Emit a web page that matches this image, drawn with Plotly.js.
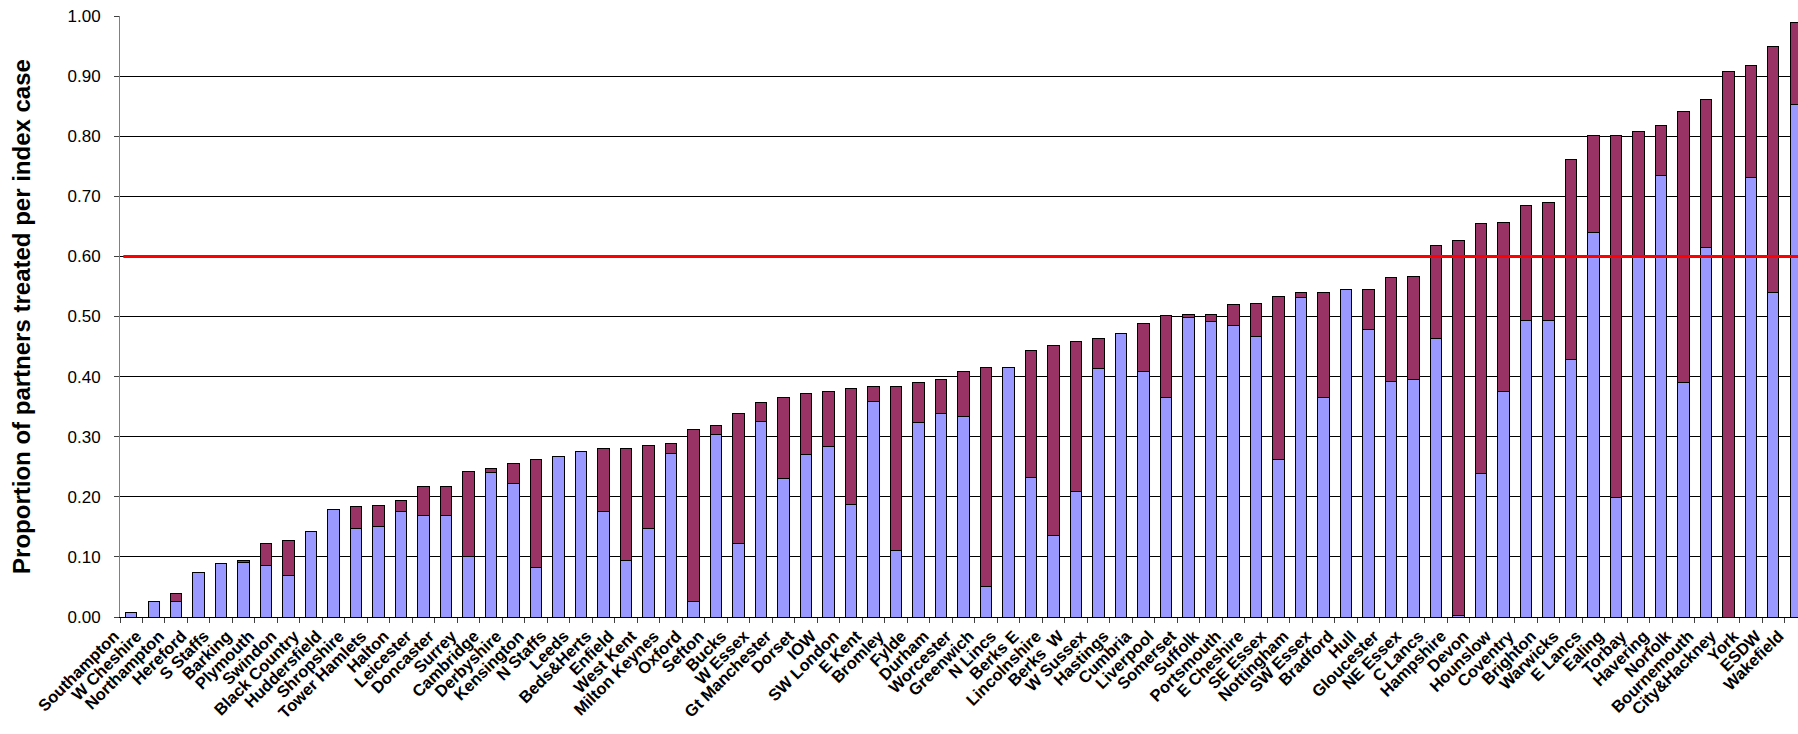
<!DOCTYPE html>
<html>
<head>
<meta charset="utf-8">
<script src="https://cdn.plot.ly/plotly-3.0.1.min.js"></script>
<style>
  html, body { margin: 0; padding: 0; background: #ffffff; }
  #chart { width: 1798px; height: 734px; }
</style>
</head>
<body>
<div id="chart"></div>
<script>
const categories = [
  "Southampton", "W Cheshire", "Northampton", "Hereford", "S Staffs", "Barking", "Plymouth", "Swindon",
  "Black Country", "Huddersfield", "Shropshire", "Tower Hamlets", "Halton", "Leicester", "Doncaster", "Surrey",
  "Cambridge", "Derbyshire", "Kensington", "N Staffs", "Leeds", "Beds&Herts", "Enfield", "West Kent",
  "Milton Keynes", "Oxford", "Sefton", "Bucks", "W Essex", "Gt Manchester", "Dorset", "IOW",
  "SW London", "E Kent", "Bromley", "Fylde", "Durham", "Worcester", "Greenwich", "N Lincs",
  "Berks E", "Lincolnshire", "Berks  W", "W Sussex", "Hastings", "Cumbria", "Liverpool", "Somerset",
  "Suffolk", "Portsmouth", "E Cheshire", "SE Essex", "Nottingham", "SW Essex", "Bradford", "Hull",
  "Gloucester", "NE Essex", "C Lancs", "Hampshire", "Devon", "Hounslow", "Coventry", "Brighton",
  "Warwicks", "E Lancs", "Ealing", "Torbay", "Havering", "Norfolk", "Bournemouth", "City&Hackney",
  "York", "ESDW", "Wakefield"
];

// lower (blue) segment of each stacked bar
const lowerSeries = [
  0.008, 0.026, 0.025, 0.074, 0.089, 0.091, 0.085, 0.069,
  0.143, 0.179, 0.148, 0.150, 0.176, 0.169, 0.169, 0.100,
  0.241, 0.222, 0.082, 0.267, 0.275, 0.176, 0.094, 0.148,
  0.272, 0.026, 0.303, 0.123, 0.326, 0.230, 0.270, 0.283,
  0.188, 0.359, 0.110, 0.323, 0.338, 0.334, 0.051, 0.415,
  0.232, 0.135, 0.209, 0.413, 0.471, 0.408, 0.365, 0.498,
  0.492, 0.485, 0.466, 0.262, 0.532, 0.365, 0.545, 0.479,
  0.392, 0.395, 0.464, 0.003, 0.239, 0.375, 0.494, 0.494,
  0.428, 0.639, 0.199, 0.598, 0.735, 0.390, 0.614, 0.000,
  0.731, 0.540, 0.853
];

// upper (maroon) segment of each stacked bar
const upperSeries = [
  0.000, 0.000, 0.014, 0.000, 0.000, 0.003, 0.038, 0.058,
  0.000, 0.000, 0.036, 0.036, 0.018, 0.048, 0.048, 0.142,
  0.006, 0.034, 0.180, 0.000, 0.000, 0.105, 0.187, 0.137,
  0.016, 0.286, 0.016, 0.216, 0.031, 0.135, 0.102, 0.092,
  0.192, 0.025, 0.274, 0.067, 0.057, 0.074, 0.364, 0.000,
  0.212, 0.316, 0.250, 0.051, 0.000, 0.081, 0.137, 0.006,
  0.012, 0.035, 0.056, 0.272, 0.008, 0.175, 0.000, 0.066,
  0.173, 0.172, 0.154, 0.623, 0.415, 0.282, 0.190, 0.196,
  0.333, 0.163, 0.603, 0.209, 0.082, 0.451, 0.247, 0.908,
  0.186, 0.409, 0.137
];

const targetValue = 0.60;
const yTickValues = [0, 0.1, 0.2, 0.3, 0.4, 0.5, 0.6, 0.7, 0.8, 0.9, 1.0];
const yTitle = "Proportion of partners treated per index case";

const FONT = "Arial, 'Liberation Sans', sans-serif";

const traces = [
  {
    type: "bar",
    x: categories,
    y: lowerSeries,
    marker: { color: "#9999FF", line: { color: "#000000", width: 1 } },
    hoverinfo: "x+y"
  },
  {
    type: "bar",
    x: categories,
    y: upperSeries,
    marker: { color: "#993366", line: { color: "#000000", width: 1 } },
    hoverinfo: "x+y"
  }
];

const layout = {
  width: 1798,
  height: 734,
  barmode: "stack",
  bargap: 0.49,
  showlegend: false,
  paper_bgcolor: "#ffffff",
  plot_bgcolor: "#ffffff",
  margin: { l: 119.5, r: 0, t: 16, b: 116.5, autoexpand: false },
  font: { family: FONT, color: "#000000" },
  xaxis: {
    type: "category",
    range: [-0.5, 74.1],
    tickangle: -45,
    ticks: "outside",
    tickson: "boundaries",
    ticklen: 5,
    tickcolor: "#404040",
    ticklabelshift: -17,
    ticklabelstandoff: 2,
    showgrid: false,
    showline: true,
    linecolor: "#000000",
    linewidth: 1,
    zeroline: false,
    automargin: false,
    tickfont: { family: FONT, size: 16.5, color: "#000000", weight: "bold" }
  },
  yaxis: {
    range: [0, 1.0],
    tickvals: yTickValues,
    tickformat: ".2f",
    ticks: "outside",
    ticklen: 5,
    tickcolor: "#404040",
    ticklabelstandoff: 10,
    showgrid: true,
    gridcolor: "#000000",
    gridwidth: 1,
    showline: true,
    linecolor: "#808080",
    linewidth: 1,
    zeroline: false,
    automargin: false,
    tickfont: { family: FONT, size: 17, color: "#000000" },
    title: { text: yTitle, standoff: 30, font: { family: FONT, size: 24, color: "#000000", weight: "bold" } }
  },
  shapes: [
    {
      type: "line",
      xref: "paper", x0: 0.002, x1: 1,
      yref: "y", y0: targetValue, y1: targetValue,
      line: { color: "#FF0000", width: 3 },
      layer: "above"
    }
  ]
};

Plotly.newPlot("chart", traces, layout, { displayModeBar: false, staticPlot: true });
</script>
</body>
</html>
